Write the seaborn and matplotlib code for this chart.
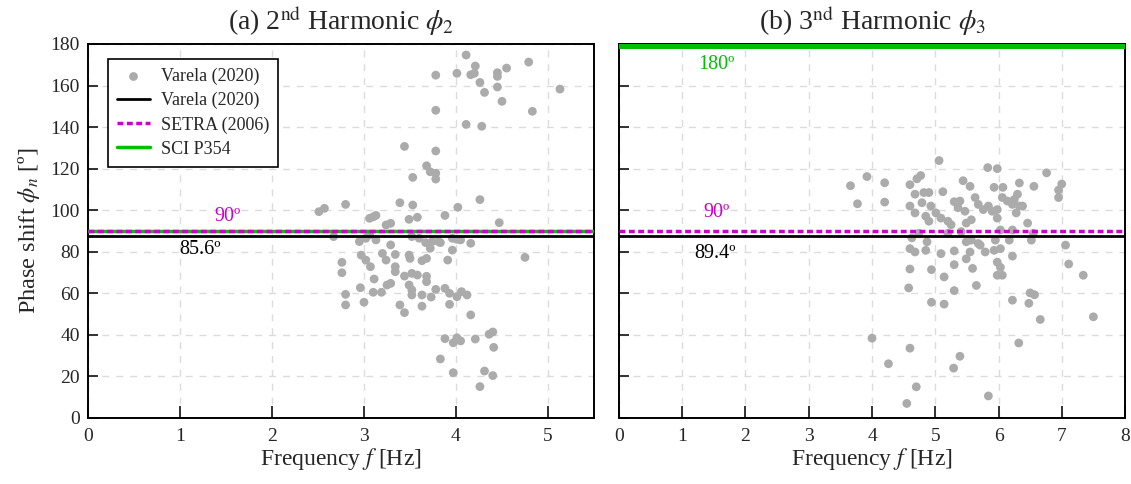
import seaborn as sns
import pandas as pd
import matplotlib.pyplot as plt
import matplotlib

sns.set_style('white')
plt.rcParams['font.family'] = ['Liberation Serif', 'DejaVu Serif']
plt.rcParams['mathtext.fontset'] = 'stix'

grey = '#ABABAB'
magenta = '#CC00CC'
green = '#00C000'

# 2nd harmonic: measured frequency [Hz] and phase shift [deg]
freq2 = [4.11, 4.21, 4.79, 4.55, 3.78, 4.01, 4.16, 4.20, 4.45, 4.45, 4.26, 4.31, 4.45, 4.50, 5.13,
         3.78, 4.83, 4.11, 4.28, 3.44, 3.78, 3.68, 3.72, 3.78, 3.78, 3.53, 4.26, 3.39, 3.53, 4.02,
         2.80, 2.51, 2.57, 3.06, 3.10, 3.13, 3.49, 3.58, 3.88, 3.24, 3.29, 4.47,
         2.67, 2.95, 3.02, 3.06, 3.13, 3.29, 3.52, 3.60, 3.67, 3.74, 3.81, 3.83, 3.96, 4.01, 4.05,
         4.16, 3.72, 3.96, 3.20, 3.34, 3.24, 3.49, 3.50, 3.91, 4.75, 3.63, 3.68, 2.97, 3.02, 3.07,
         2.76, 2.76, 3.34, 3.34, 3.11, 3.44, 3.52, 3.58, 3.49, 3.52, 3.68, 3.68, 3.25, 3.29, 2.96,
         3.10, 3.19, 2.80, 2.80, 3.00, 3.39, 3.44, 3.63, 3.73, 3.63, 3.78, 3.88, 3.93, 4.01, 4.06,
         4.12, 3.93, 4.16, 3.52, 3.88, 3.97, 4.01, 4.05, 4.21, 4.36, 4.40, 4.41, 3.83, 3.97, 4.31,
         4.40, 4.26]
phi2 = [174.7, 169.4, 171.3, 168.4, 165.0, 165.9, 165.2, 165.9, 166.2, 164.4, 161.5, 156.7, 159.3, 152.4, 158.3,
        148.1, 147.6, 141.3, 140.4, 130.7, 128.5, 121.4, 118.5, 117.8, 115.0, 115.8, 105.1, 103.6, 102.5, 101.4,
        102.8, 99.3, 100.9, 96.1, 96.8, 97.5, 95.6, 96.6, 97.5, 92.9, 93.7, 94.0,
        87.3, 84.9, 86.5, 88.1, 85.7, 83.3, 87.3, 86.5, 84.4, 84.9, 84.9, 84.4, 86.5, 86.0, 85.7,
        84.1, 81.7, 80.8, 79.2, 78.7, 76.0, 78.4, 76.8, 76.0, 77.3, 75.7, 76.8, 78.4, 76.0, 72.8,
        74.9, 69.9, 72.8, 70.4, 66.9, 68.3, 69.6, 68.8, 64.0, 59.2, 68.2, 65.6, 64.0, 64.8, 62.7,
        60.5, 60.5, 59.5, 54.4, 55.7, 54.4, 50.7, 59.2, 58.2, 53.8, 61.9, 62.4, 60.0, 58.4, 60.8,
        59.2, 54.7, 49.6, 61.6, 38.2, 36.2, 38.6, 37.1, 38.0, 40.3, 41.4, 34.0, 28.4, 21.8, 22.6,
        20.4, 15.1]

# 3rd harmonic
freq3 = [5.06, 5.83, 5.98, 6.76, 3.92, 3.66, 4.20, 4.77, 4.71, 4.60, 5.44, 5.55, 5.93, 6.07, 6.33,
         6.30, 6.25, 6.56, 7.00, 6.95, 6.95, 3.77, 4.20, 4.68, 4.82, 4.90, 5.12, 4.79, 4.60, 4.68,
         4.93, 5.01, 5.09, 5.20, 4.85, 4.90, 5.30, 5.39, 5.36, 5.47, 5.25, 5.57, 5.49, 5.63, 5.68,
         5.76, 5.90, 5.84, 5.98, 5.98, 6.06, 6.14, 6.22, 6.33, 6.38, 6.28, 6.46,
         6.22, 6.55, 6.03, 5.41, 4.74, 4.63, 5.20, 4.87, 5.49, 5.57, 5.68, 5.95, 6.17, 6.52, 4.60,
         4.68, 4.85, 5.09, 5.30, 5.55, 5.49, 5.71, 5.79, 5.93, 6.03, 6.22, 7.06, 4.60, 4.94, 5.14,
         5.30, 5.59, 5.98, 6.03, 5.98, 6.06, 7.11, 7.34, 5.65, 4.58, 5.30, 4.94, 5.14, 6.22, 6.48,
         6.50, 6.57, 6.66, 7.50, 4.00, 4.60, 6.32, 5.39, 4.26, 5.29, 4.70, 5.84, 4.55]
phi3 = [123.9, 120.5, 120.0, 118.0, 116.2, 111.8, 113.2, 116.7, 115.1, 112.3, 114.2, 111.5, 111.0, 111.0, 113.1,
        107.7, 105.2, 111.5, 112.6, 109.7, 106.1, 103.1, 103.9, 107.7, 108.5, 108.5, 108.9, 103.6, 102.0, 98.7,
        102.0, 98.7, 96.2, 94.7, 97.1, 94.7, 104.1, 104.4, 101.2, 99.5, 93.0, 95.4, 93.8, 106.1, 102.8,
        100.3, 99.5, 102.0, 100.3, 96.2, 106.1, 104.4, 102.8, 102.0, 102.0, 98.7, 93.8,
        90.5, 88.9, 90.5, 89.7, 88.9, 86.7, 88.9, 84.8, 84.8, 85.6, 84.0, 85.6, 85.6, 85.6, 81.5,
        79.9, 80.7, 79.1, 80.4, 79.9, 76.6, 83.2, 79.9, 80.7, 81.5, 77.9, 83.2, 71.7, 71.4, 67.9,
        73.8, 72.0, 75.0, 72.5, 68.7, 68.7, 74.1, 68.7, 63.8, 62.6, 61.3, 55.7, 54.8, 56.7, 55.2,
        60.2, 59.3, 47.4, 48.7, 38.4, 33.6, 36.1, 29.7, 26.1, 24.0, 15.0, 10.6, 7.0]

# reference phase shifts [deg]
varela_2, setra_2, sci_2 = 87.5, 90, 90
varela_3, setra_3, sci_3 = 87.5, 90, 180
ticks_y = list(range(0, 181, 20))

fig = plt.figure(figsize=(11.31, 4.84), dpi=100)
ax1 = fig.add_axes([0.0778, 0.1364, 0.4474, 0.7727])
ax2 = fig.add_axes([0.5473, 0.1364, 0.4474, 0.7727])

dash = (0, (1.7, 1.0))
for ax, f, p, v, s, c, xmax, title in [
        (ax1, freq2, phi2, varela_2, setra_2, sci_2, 5.5, r'(a) 2$^{\mathrm{nd}}$ Harmonic $\phi_2$'),
        (ax2, freq3, phi3, varela_3, setra_3, sci_3, 8, r'(b) 3$^{\mathrm{nd}}$ Harmonic $\phi_3$')]:
    df = pd.DataFrame({'f': f, 'phi': p})
    sns.scatterplot(data=df, x='f', y='phi', color=grey, s=40, edgecolor='none',
                    ax=ax, label='Varela (2020)', zorder=3)
    ax.axhline(v, color='black', lw=2, label='Varela (2020)', zorder=4)
    ax.axhline(c, color=green, lw=6.5 if c == 180 else 2.5, label='SCI P354', zorder=4)
    ax.axhline(s, color=magenta, lw=2.5, ls=dash, label='SETRA (2006)', zorder=5)
    ax.set_xlim(0, xmax)
    ax.set_ylim(0, 180)
    ax.set_xticks(range(0, int(xmax) + 1))
    ax.set_yticks(ticks_y)
    ax.grid(True, color='#DCDCDC', ls=(0, (5, 5)), lw=1)
    ax.set_axisbelow(True)
    ax.tick_params(axis='x', bottom=True, direction='in', length=9, width=1.3, labelsize=14,
                   pad=7, color='#222222')
    ax.tick_params(axis='y', left=True, direction='in', length=7, width=1.3, labelsize=14,
                   pad=6, color='#222222')
    for sp in ax.spines.values():
        sp.set_color('black')
        sp.set_linewidth(1.4)
    ax.set_xlabel(r'Frequency $f$ [Hz]', fontsize=17, labelpad=1)
    ax.set_ylabel('')
    ax.set_title(title, fontsize=20, pad=10)

ax2.set_yticklabels([])
ax2.get_legend().remove()

h, l = ax1.get_legend_handles_labels()
order = [0, 1, 3, 2]
leg = ax1.legend([h[i] for i in order], [l[i] for i in order], loc='upper left',
                 bbox_to_anchor=(0.04, 0.96), borderaxespad=0, fontsize=13,
                 fancybox=False, framealpha=1, edgecolor='black', handlelength=1.8,
                 labelspacing=0.38, borderpad=0.5, handletextpad=0.6)
leg.get_frame().set_linewidth(1.2)

ax1.set_ylabel(r'Phase shift $\phi_n$ [º]', fontsize=17.5, labelpad=6)

ax1.text(1.52, 97.2, '90º', color=magenta, fontsize=14.5, ha='center', va='center')
ax1.text(1.22, 81.3, '85.6º', color='black', fontsize=14.5, ha='center', va='center')
ax2.text(1.54, 169.9, '180º', color=green, fontsize=14.5, ha='center', va='center')
ax2.text(1.54, 98.7, '90º', color=magenta, fontsize=14.5, ha='center', va='center')
ax2.text(1.52, 79.4, '89.4º', color='black', fontsize=14.5, ha='center', va='center')

plt.savefig('out.png', dpi=100)
